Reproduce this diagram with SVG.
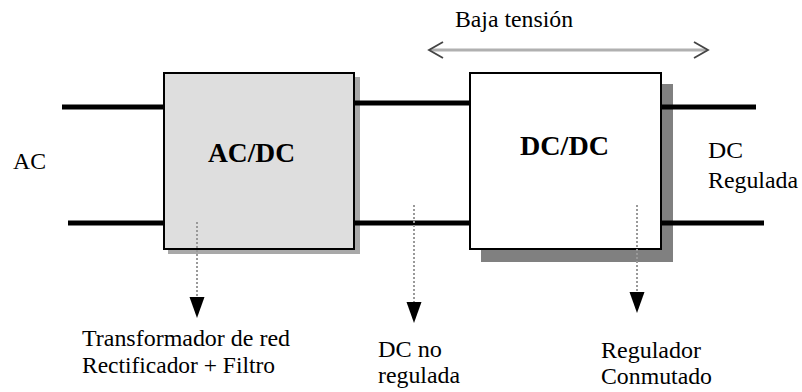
<svg xmlns="http://www.w3.org/2000/svg" width="802" height="392" viewBox="0 0 802 392">
<style>
.lbl{font-family:'Liberation Serif','Times New Roman',Times,'DejaVu Serif',serif;font-size:24px;fill:#000}
.big{font-family:'Liberation Serif','Times New Roman',Times,'DejaVu Serif',serif;font-size:28px;font-weight:bold;fill:#000}
.wire{stroke:#000;stroke-width:5;fill:none}
.dot{stroke:#999;stroke-width:2;stroke-dasharray:2,2;fill:none}
.head{fill:#000}
</style>
<rect width="802" height="392" fill="#fff"/>
<g id="acdc">
<rect x="168" y="77" width="192" height="177" fill="#a8a8a8"/>
<rect x="164" y="73" width="190" height="176" fill="#dedede" stroke="#000" stroke-width="2"/>
<text class="big" x="208" y="162" textLength="87" lengthAdjust="spacingAndGlyphs">AC/DC</text>
</g>
<g id="dcdc">
<rect x="481" y="84" width="192" height="178" fill="#808080"/>
<rect x="470" y="73" width="191" height="176" fill="#fff" stroke="#000" stroke-width="2"/>
<text class="big" x="520" y="155" textLength="89" lengthAdjust="spacingAndGlyphs">DC/DC</text>
</g>
<g id="connectors">
<line class="wire" x1="62" y1="107" x2="164" y2="107"/>
<line class="wire" x1="68" y1="223" x2="164" y2="223"/>
<line class="wire" x1="355" y1="103" x2="471" y2="103"/>
<line class="wire" x1="355" y1="223" x2="471" y2="223"/>
<line class="wire" x1="660" y1="107" x2="756" y2="107"/>
<line class="wire" x1="660" y1="223" x2="764" y2="223"/>
<line class="dot" x1="197" y1="222" x2="197" y2="298"/>
<polygon class="head" points="189.5,297 204.5,297 197,318"/>
<line class="dot" x1="414" y1="205" x2="414" y2="303"/>
<polygon class="head" points="406.5,302 421.5,302 414,323"/>
<line class="dot" x1="637" y1="205" x2="637" y2="293"/>
<polygon class="head" points="629.5,292 644.5,292 637,313"/>
<g id="baja">
<line x1="430" y1="50" x2="707" y2="50" stroke="#b0b0b0" stroke-width="3"/>
<polyline points="443,42 429,50 443,58" fill="none" stroke="#444" stroke-width="1.8"/>
<polyline points="694,42 708,50 694,58" fill="none" stroke="#444" stroke-width="1.8"/>
</g>
</g>
<g id="labels">
<text class="lbl" x="455" y="27" textLength="118" lengthAdjust="spacingAndGlyphs">Baja tensión</text>
<text class="lbl" x="13" y="169" textLength="33" lengthAdjust="spacingAndGlyphs">AC</text>
<text class="lbl" x="708" y="158" textLength="35" lengthAdjust="spacingAndGlyphs">DC</text>
<text class="lbl" x="708" y="188" textLength="90" lengthAdjust="spacingAndGlyphs">Regulada</text>
<text class="lbl" x="82" y="346" textLength="208" lengthAdjust="spacingAndGlyphs">Transformador de red</text>
<text class="lbl" x="82" y="373" textLength="193" lengthAdjust="spacingAndGlyphs">Rectificador + Filtro</text>
<text class="lbl" x="378" y="357" textLength="64" lengthAdjust="spacingAndGlyphs">DC no</text>
<text class="lbl" x="378" y="383" textLength="82" lengthAdjust="spacingAndGlyphs">regulada</text>
<text class="lbl" x="601" y="358" textLength="100" lengthAdjust="spacingAndGlyphs">Regulador</text>
<text class="lbl" x="601" y="384" textLength="111" lengthAdjust="spacingAndGlyphs">Conmutado</text>
</g>
</svg>
